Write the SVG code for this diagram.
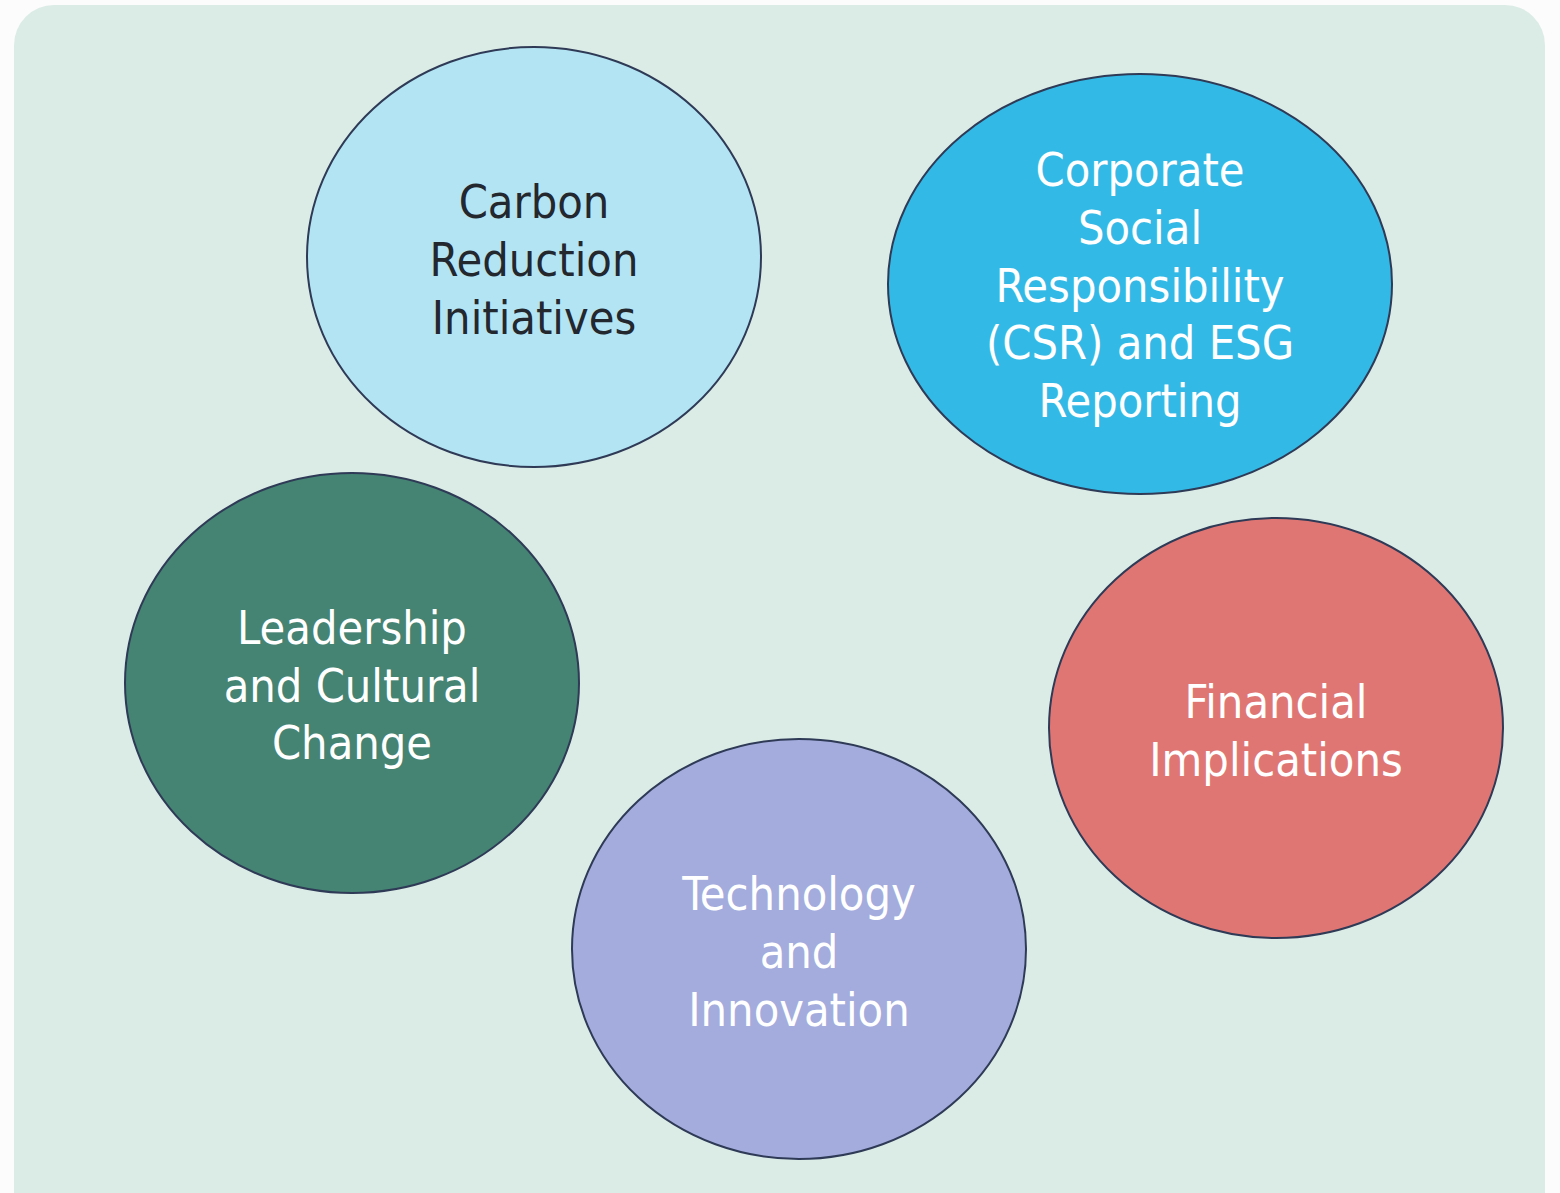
<svg xmlns="http://www.w3.org/2000/svg" width="1560" height="1193" viewBox="0 0 1560 1193">
<style>
.n{stroke:#2e3a56;stroke-width:2}
.t{font-family:"DejaVu Sans Condensed","DejaVu Sans",sans-serif;font-size:46.5px;text-anchor:middle}
.w{fill:#ffffff}
.d{fill:#23272e}
</style>
<rect x="0" y="0" width="1560" height="1193" fill="#fcfcfc"/>
<rect x="14" y="5" width="1531" height="1230" rx="40" ry="40" fill="#dbece6"/>
<g id="carbon">
<ellipse class="n" cx="534" cy="257" rx="227" ry="210" fill="#b3e4f4"/>
<text class="t d"><tspan x="534" y="218">Carbon</tspan><tspan x="534" y="276">Reduction</tspan><tspan x="534" y="334">Initiatives</tspan></text>
</g>
<g id="csr">
<ellipse class="n" cx="1140" cy="284" rx="252" ry="210" fill="#33b9e6"/>
<text class="t w"><tspan x="1140" y="186">Corporate</tspan><tspan x="1140" y="244">Social</tspan><tspan x="1140" y="302">Responsibility</tspan><tspan x="1140" y="359">(CSR) and ESG</tspan><tspan x="1140" y="417">Reporting</tspan></text>
</g>
<g id="leadership">
<ellipse class="n" cx="352" cy="683" rx="227" ry="210" fill="#458373"/>
<text class="t w"><tspan x="352" y="644">Leadership</tspan><tspan x="352" y="702">and Cultural</tspan><tspan x="352" y="759">Change</tspan></text>
</g>
<g id="financial">
<ellipse class="n" cx="1276" cy="728" rx="227" ry="210" fill="#e07674"/>
<text class="t w"><tspan x="1276" y="718">Financial</tspan><tspan x="1276" y="776">Implications</tspan></text>
</g>
<g id="technology">
<ellipse class="n" cx="799" cy="949" rx="227" ry="210" fill="#a3acdd"/>
<text class="t w"><tspan x="799" y="910">Technology</tspan><tspan x="799" y="968">and</tspan><tspan x="799" y="1026">Innovation</tspan></text>
</g>
<g id="connectors"/>
</svg>
